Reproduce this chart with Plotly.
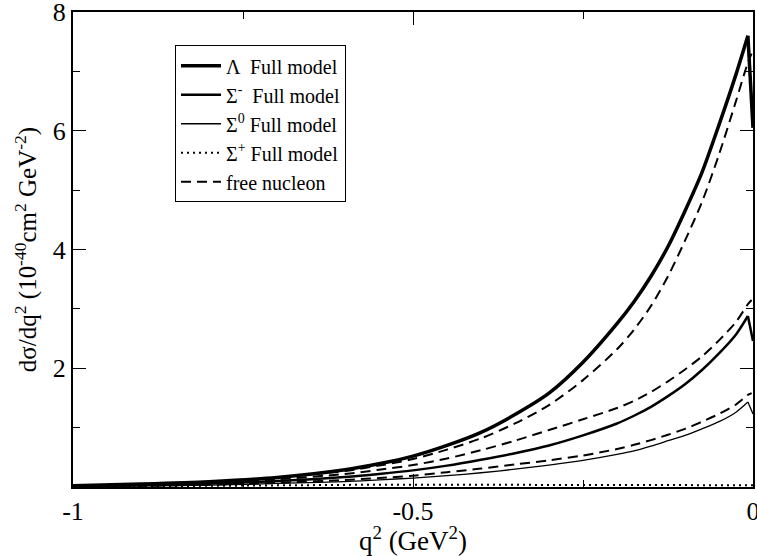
import plotly.graph_objects as go

q = [-1.0, -0.9, -0.8, -0.7, -0.6, -0.55, -0.5, -0.45, -0.4, -0.35, -0.3, -0.25, -0.2,
     -0.175, -0.15, -0.125, -0.1, -0.075, -0.05, -0.025, -0.0075, 0.0]
lam_full = [0.02, 0.05, 0.09, 0.16, 0.29, 0.39, 0.52, 0.70, 0.92, 1.22, 1.58, 2.1, 2.75,
            3.12, 3.55, 4.05, 4.65, 5.3, 6.1, 6.95, 7.6, 6.05]
sigm_full = [0.01, 0.03, 0.06, 0.10, 0.17, 0.22, 0.28, 0.36, 0.46, 0.57, 0.70, 0.87, 1.07,
             1.2, 1.35, 1.53, 1.73, 1.97, 2.25, 2.57, 2.88, 2.46]
sig0_full = [0.01, 0.02, 0.03, 0.06, 0.09, 0.12, 0.15, 0.19, 0.24, 0.30, 0.37, 0.45, 0.55,
             0.61, 0.69, 0.78, 0.87, 0.98, 1.1, 1.26, 1.43, 1.23]
sigp_full = [0.005, 0.01, 0.02, 0.03, 0.035, 0.04, 0.04, 0.04, 0.04, 0.04, 0.04, 0.04, 0.04,
             0.035, 0.035, 0.035, 0.035, 0.03, 0.03, 0.03, 0.03, 0.03]

q_free = [-1.0, -0.9, -0.8, -0.7, -0.6, -0.55, -0.5, -0.45, -0.4, -0.35, -0.3, -0.25, -0.2,
          -0.175, -0.15, -0.125, -0.1, -0.075, -0.05, -0.025, -0.0075, -0.002]
lam_free = [0.02, 0.05, 0.09, 0.16, 0.27, 0.36, 0.47, 0.63, 0.82, 1.07, 1.38, 1.8, 2.32,
            2.65, 3.05, 3.55, 4.15, 4.8, 5.6, 6.5, 7.15, 7.3]
sigm_free = [0.01, 0.03, 0.07, 0.13, 0.22, 0.29, 0.37, 0.48, 0.62, 0.78, 0.96, 1.14, 1.33,
             1.45, 1.6, 1.78, 1.98, 2.2, 2.47, 2.78, 3.08, 3.15]
sig0_free = [0.01, 0.02, 0.04, 0.07, 0.12, 0.15, 0.19, 0.25, 0.31, 0.38, 0.45, 0.53, 0.64,
             0.71, 0.79, 0.88, 0.98, 1.1, 1.23, 1.39, 1.55, 1.58]

DASH = "10px,6px"
fig = go.Figure()

full_series = [
    ("Λ  Full model", lam_full, 3.5),
    ("Σ<sup>-</sup>  Full model", sigm_full, 2.5),
    ("Σ<sup>0</sup> Full model", sig0_full, 1.3),
]
for i, (name, ys, w) in enumerate(full_series):
    fig.add_trace(go.Scatter(x=q[:-1], y=ys[:-1], mode="lines", name=name,
                             legendgroup=f"g{i}", legendrank=i + 1,
                             line=dict(color="black", width=w, shape="spline", smoothing=0.8)))
    fig.add_trace(go.Scatter(x=q[-2:], y=ys[-2:], mode="lines", name=name,
                             legendgroup=f"g{i}", showlegend=False,
                             line=dict(color="black", width=w)))

fig.add_trace(go.Scatter(x=q, y=sigp_full, mode="lines", name="Σ<sup>+</sup> Full model",
                         legendrank=4,
                         line=dict(color="black", width=2, dash="2px,4px")))
for j, ys in enumerate([lam_free, sigm_free, sig0_free]):
    fig.add_trace(go.Scatter(x=q_free, y=ys, mode="lines", name="free nucleon",
                             legendgroup="free", legendrank=5, showlegend=(j == 0),
                             line=dict(color="black", width=2, dash=DASH,
                                       shape="spline", smoothing=0.8)))

font = "Liberation Serif"
fig.update_layout(
    width=757, height=556,
    margin=dict(l=73, r=4, t=12, b=69),
    paper_bgcolor="white", plot_bgcolor="white",
    font=dict(family=font, color="black", size=22),
    showlegend=True,
    legend=dict(x=0.15, y=0.93, xanchor="left", yanchor="top",
                bordercolor="black", borderwidth=1, bgcolor="white",
                font=dict(family=font, size=20), tracegroupgap=0,
                itemwidth=40, traceorder="normal"),
    xaxis=dict(range=[-1, 0], tickvals=[-1, -0.5, 0], ticktext=["-1", "-0.5", "0"],
               ticks="inside", ticklen=13, tickwidth=1, tickcolor="black",
               minor=dict(tickvals=[-0.75, -0.25], ticks="inside", ticklen=7, tickcolor="black"),
               showline=True, linecolor="black", linewidth=2, mirror="allticks",
               showgrid=False, zeroline=False, automargin=False,
               ticklabeloverflow="allow",
               tickfont=dict(family=font, size=26),
               title=dict(text="q<sup>2</sup> (GeV<sup>2</sup>)", font=dict(family=font, size=27),
                          standoff=2)),
    yaxis=dict(range=[0, 8], tickvals=[2, 4, 6, 8], ticktext=["2", "4", "6", "8"],
               ticks="inside", ticklen=13, tickwidth=1, tickcolor="black",
               minor=dict(tickvals=[1, 3, 5, 7], ticks="inside", ticklen=7, tickcolor="black"),
               showline=True, linecolor="black", linewidth=2, mirror="allticks",
               showgrid=False, zeroline=False, automargin=False,
               ticklabeloverflow="allow",
               tickfont=dict(family=font, size=26),
               title=dict(text="dσ/dq<sup>2</sup> (10<sup>-40</sup>cm<sup>2</sup> GeV<sup>-2</sup>)",
                          font=dict(family=font, size=25), standoff=9)),
)

fig.write_html("out.html", config={"displayModeBar": False},
               post_script="document.body.style.margin='0';")
